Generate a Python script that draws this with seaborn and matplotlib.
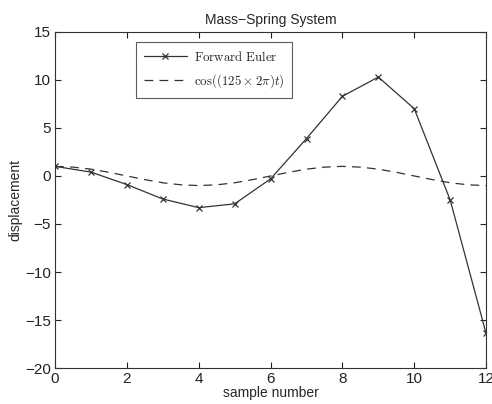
import numpy as np
import seaborn as sns
import matplotlib
matplotlib.use('Agg')
import matplotlib.pyplot as plt

# forward euler samples
samples = [0, 1, 2, 3, 4, 5, 6, 7, 8, 9, 10, 11, 12]
euler = [1.0, 0.4, -0.9, -2.4, -3.3, -2.9, -0.3, 3.9, 8.3, 10.3, 7.0, -2.5, -16.4]

# reference cosine, read at half-sample steps
cos_x = [0, 0.5, 1, 1.5, 2, 2.5, 3, 3.5, 4, 4.5, 5, 5.5, 6, 6.5, 7, 7.5, 8,
         8.5, 9, 9.5, 10, 10.5, 11, 11.5, 12]
cos_y = [1.0, 0.92, 0.71, 0.38, 0.0, -0.38, -0.71, -0.92, -1.0, -0.92, -0.71,
         -0.38, 0.0, 0.38, 0.71, 0.92, 1.0, 0.92, 0.71, 0.38, 0.0, -0.38,
         -0.71, -0.92, -1.0]

xticks = [0, 2, 4, 6, 8, 10, 12]
yticks = [-20, -15, -10, -5, 0, 5, 10, 15]

sns.set_style('ticks')
plt.rcParams['font.family'] = ['Liberation Sans', 'DejaVu Sans']
plt.rcParams['mathtext.fontset'] = 'cm'

fig = plt.figure(figsize=(4.92, 4.04), dpi=100)
ax = fig.add_axes([0.112, 0.089, 0.876, 0.832])

sns.lineplot(x=samples, y=euler, ax=ax, color='#333333', linewidth=0.9,
             marker='x', markersize=5, markeredgewidth=0.9, markeredgecolor='#333333',
             label=r'$\mathrm{Forward\ Euler}$')
sns.lineplot(x=cos_x, y=cos_y, ax=ax, color='#333333', linewidth=0.9,
             linestyle=(0, (7, 5)), label=r'$\cos((125\times 2\pi)t)$')

ax.set_xlim(0, 12)
ax.set_ylim(-20, 15)
ax.set_xticks(xticks)
ax.set_yticks(yticks)
ax.tick_params(direction='in', top=True, right=True, length=4, width=0.8,
               labelsize=11, colors='#222222', pad=3)
for s in ax.spines.values():
    s.set_linewidth(0.8)
    s.set_color('#333333')

ax.set_title('Mass\u2212Spring System', fontsize=10, pad=6)
ax.set_xlabel('sample number', fontsize=10, labelpad=0)
ax.set_ylabel('displacement', fontsize=10, labelpad=2)

leg = ax.legend(loc='upper left', bbox_to_anchor=(0.188, 0.970), fontsize=9.3,
                frameon=True, fancybox=False, edgecolor='#333333',
                borderaxespad=0, handlelength=3.3, handletextpad=0.6,
                borderpad=0.6, labelspacing=0.65)
leg.get_frame().set_linewidth(0.8)

fig.savefig('out.png', dpi=100)
